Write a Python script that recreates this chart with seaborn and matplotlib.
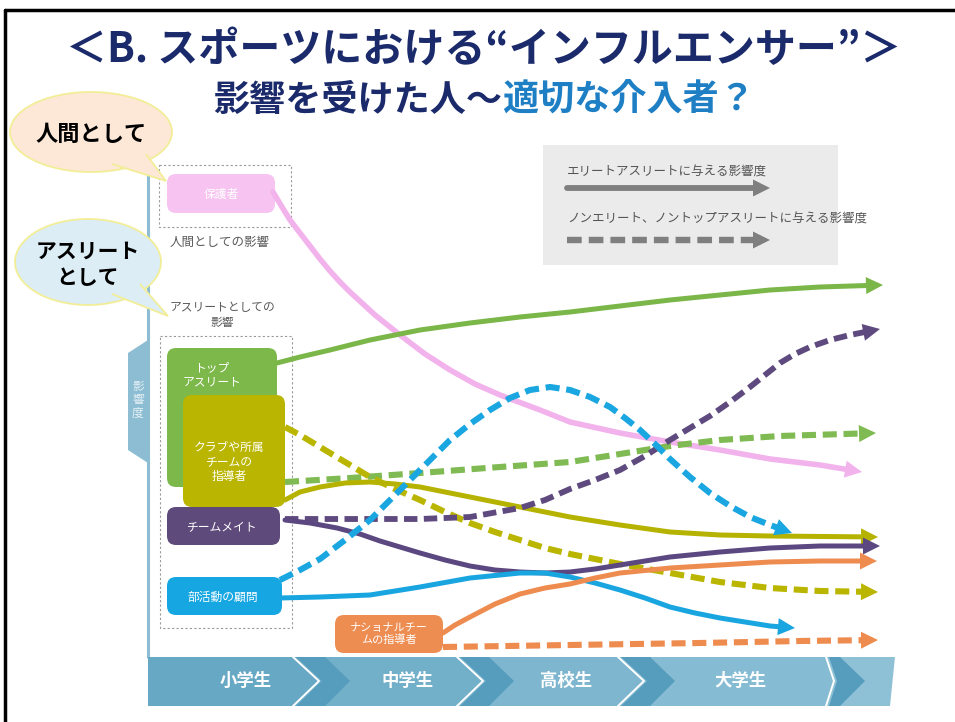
import numpy as np
import matplotlib
matplotlib.use("Agg")
import matplotlib.pyplot as plt
import matplotlib.patches as mpatches
import seaborn as sns

# curves, pixel coordinates (x to the right, y downwards)
# the last point of every list is the arrow tip
pink_x = [273, 282, 290, 300, 310, 320, 330, 340, 350, 375, 400, 425, 450, 475, 500, 540, 570, 620, 670, 720, 770, 820, 862]
pink_y = [192, 207, 220, 233, 246, 259, 271, 282, 292, 315, 335, 354, 370, 384, 395, 410, 422, 433, 442, 450, 459, 465, 472]

green_x = [277, 300, 330, 370, 420, 470, 520, 570, 620, 670, 720, 770, 820, 883]
green_y = [363, 357, 350, 340, 330, 323, 317, 312, 306, 300, 295, 290, 287, 285]

green_dash_x = [285, 350, 420, 500, 570, 620, 670, 720, 780, 876]
green_dash_y = [482, 478, 473, 467, 462, 454, 446, 440, 436, 433]

olive_dash_x = [285, 300, 320, 345, 370, 395, 420, 445, 470, 495, 520, 545, 570, 620, 670, 720, 770, 820, 878]
olive_dash_y = [427, 435, 447, 462, 477, 489, 500, 512, 523, 532, 540, 548, 554, 564, 573, 582, 588, 591, 592]

olive_x = [285, 300, 320, 345, 370, 395, 420, 445, 470, 520, 570, 620, 670, 720, 770, 878]
olive_y = [500, 492, 487, 483, 482, 484, 487, 492, 497, 507, 517, 525, 532, 535, 536, 537]

purple_dash_x = [285, 350, 420, 470, 520, 545, 570, 595, 620, 645, 670, 690, 710, 730, 750, 765, 780, 795, 810, 830, 850, 880]
purple_dash_y = [519, 519, 519, 517, 508, 500, 489, 480, 470, 456, 440, 428, 416, 402, 387, 375, 363, 354, 347, 340, 335, 329]

purple_x = [285, 310, 337, 360, 380, 400, 420, 445, 470, 495, 520, 545, 570, 595, 620, 670, 720, 770, 820, 880]
purple_y = [520, 523, 528, 534, 541, 547, 553, 560, 566, 570, 572, 573, 572, 569, 565, 557, 552, 548, 546, 546]

blue_dash_x = [280, 300, 320, 345, 370, 390, 410, 430, 450, 470, 490, 510, 530, 550, 570, 590, 610, 625,
               640, 655, 670, 690, 710, 730, 750, 770, 792]
blue_dash_y = [580, 570, 559, 540, 520, 500, 480, 460, 440, 424, 410, 398, 390, 387, 390, 397, 407, 418,
               430, 444, 459, 477, 493, 506, 517, 525, 533]

blue_x = [280, 320, 370, 420, 470, 520, 545, 570, 595, 620, 645, 670, 695, 720, 770, 795]
blue_y = [598, 597, 595, 587, 578, 573, 573, 577, 583, 590, 598, 607, 613, 618, 626, 628]

orange_x = [443, 455, 470, 495, 520, 545, 570, 595, 620, 670, 720, 770, 820, 877]
orange_y = [633, 625, 617, 604, 594, 588, 584, 578, 573, 568, 565, 562, 561, 561]

orange_dash_x = [443, 570, 700, 800, 878]
orange_dash_y = [647, 645, 643, 641, 640]

legend_solid_x = [567, 770]
legend_solid_y = [188, 188]
legend_dash_x = [567, 770]
legend_dash_y = [240, 240]

# school stages along the bottom band
stage_names = ['小学生', '中学生', '高校生', '大学生']
stage_label_x = [246, 408, 566, 740]
stage_tips = [319, 483, 644, 834]

sns.set_theme(style="white")
plt.rcParams['font.family'] = ['Noto Sans CJK JP', 'DejaVu Sans']

fig = plt.figure(figsize=(9.55, 7.22), dpi=100)
ax = fig.add_axes([0, 0, 1, 1])

NAVY = '#1a2a6a'


def arrow(xs, ys, color, dashed=False, lw=3.6, head=17, half=8.5, z=4):
    xs = np.asarray(xs, float)
    ys = np.asarray(ys, float)
    tip = np.array([xs[-1], ys[-1]])
    d = tip - np.array([xs[-2], ys[-2]])
    d = d / np.hypot(*d)
    nrm = np.array([-d[1], d[0]])
    base = tip - d * head
    keep = np.hypot(xs - tip[0], ys - tip[1]) > head + 2
    lx = np.append(xs[keep], base[0] + d[0] * 2)
    ly = np.append(ys[keep], base[1] + d[1] * 2)
    ls = (0, (2.3, 1.1)) if dashed else '-'
    sns.lineplot(x=lx, y=ly, sort=False, estimator=None, color=color, lw=lw, linestyle=ls,
                 ax=ax, legend=False, zorder=z, solid_capstyle='round', dash_capstyle='butt',
                 solid_joinstyle='round', dash_joinstyle='round')
    ax.add_patch(mpatches.Polygon([tip, base + nrm * half, base - nrm * half], closed=True,
                                  fc=color, ec='none', zorder=z))


def box(x, y, w, h, color, text, tx, ty, fs=8.5, z=2):
    ax.add_patch(mpatches.FancyBboxPatch((x, y), w, h, boxstyle="round,pad=0,rounding_size=9",
                                         fc=color, ec='none', zorder=z))
    ax.text(tx, ty, text, ha='center', va='center', color='white', fontsize=fs,
            linespacing=1.15, zorder=z + 0.1)


def bubble(cx, cy, w, h, tail, fill, text, fs):
    ax.add_patch(mpatches.Ellipse((cx, cy), w, h, fc=fill, ec='#f2ee98', lw=1.3, zorder=6))
    ax.add_patch(mpatches.Polygon(tail, closed=False, fc=fill, ec='#f2ee98', lw=1.3, zorder=6.1))
    ax.text(cx, cy + 2, text, ha='center', va='center', fontsize=fs, fontweight='bold',
            color='black', linespacing=1.3, zorder=6.2)


# slide frame
ax.plot([5, 955], [10, 10], color='black', lw=2.5)
ax.plot([5, 5], [10, 722], color='black', lw=2.5)

# title
ax.text(484, 50, '＜B. スポーツにおける“インフルエンサー”＞', ha='center', va='center',
        fontsize=29.5, fontweight='bold', color=NAVY)
ax.text(502, 100, '影響を受けた人～', ha='right', va='center', fontsize=26,
        fontweight='bold', color=NAVY)
ax.text(502, 100, '適切な介入者？', ha='left', va='center', fontsize=26,
        fontweight='bold', color='#1f7fc4')

# vertical influence axis
ax.plot([148, 148], [125, 657], color='#8dbdd3', lw=2.2, zorder=1)
ax.add_patch(mpatches.Polygon([(128, 353), (148, 340), (148, 463), (128, 450)],
                              fc='#8dbdd3', ec='none', zorder=1))
ax.text(138, 400, '影\n響\n度', ha='center', va='center', fontsize=8.5, color='#e6f1f6',
        linespacing=1.05)

# dashed group frames
ax.add_patch(mpatches.Rectangle((159, 165), 132, 62, fill=False, ec='#9a9a9a', lw=0.8,
                                ls=(0, (2, 2)), zorder=1))
ax.add_patch(mpatches.Rectangle((160, 336), 132, 292, fill=False, ec='#9a9a9a', lw=0.8,
                                ls=(0, (2, 2)), zorder=1))
ax.text(220, 242, '人間としての影響', ha='center', va='center', fontsize=9, color='#5a5a5a')
ax.text(222, 315, 'アスリートとしての\n影響', ha='center', va='center', fontsize=8.5,
        color='#5a5a5a', linespacing=1.2)

# source boxes
box(167, 174, 108, 39, '#f7c3f1', '保護者', 221, 194)
box(167, 348, 110, 139, '#7cb84a', 'トップ\nアスリート', 212, 375)
box(183, 395, 102, 112, '#b9b500', 'クラブや所属\nチームの\n指導者', 229, 462, z=2.3)
box(167, 507, 113, 38, '#5e4a7b', 'チームメイト', 222, 528, z=2.6)
box(167, 577, 115, 38, '#16a6e2', '部活動の顧問', 223, 597)
box(335, 615, 108, 38, '#ee8d52', 'ナショナルチー\nムの指導者', 389, 634, fs=8)

# legend
ax.add_patch(mpatches.Rectangle((543, 145), 295, 120, fc='#ebebeb', ec='none', zorder=1))
ax.text(567, 172, 'エリートアスリートに与える影響度', ha='left', va='center', fontsize=9,
        color='#555555', zorder=2)
ax.text(567, 219, 'ノンエリート、ノントップアスリートに与える影響度', ha='left', va='center',
        fontsize=9, color='#555555', zorder=2)
arrow(legend_solid_x, legend_solid_y, '#7f7f7f', lw=4.2, z=2)
arrow(legend_dash_x, legend_dash_y, '#7f7f7f', dashed=True, lw=4.6, z=2)

# influence curves
arrow(pink_x, pink_y, '#f2b3ec', lw=4.0)
arrow(green_x, green_y, '#7ab648')
arrow(green_dash_x, green_dash_y, '#7fba52', dashed=True, lw=4.4)
arrow(olive_dash_x, olive_dash_y, '#bab600', dashed=True, lw=4.4)
arrow(olive_x, olive_y, '#b6b300')
arrow(purple_dash_x, purple_dash_y, '#5e4a7e', dashed=True, lw=4.2)
arrow(purple_x, purple_y, '#5c4880')
arrow(blue_dash_x, blue_dash_y, '#1aa6e0', dashed=True, lw=4.4)
arrow(blue_x, blue_y, '#19a5df')
arrow(orange_x, orange_y, '#ee8c50')
arrow(orange_dash_x, orange_dash_y, '#ee8c50', dashed=True, lw=4.4)

# speech bubbles
bubble(91, 132, 162, 80, [(112, 164), (166, 181), (146, 154)], '#fde8d7', '人間として', 16)
bubble(88, 262, 146, 86, [(112, 294), (168, 316), (140, 284)], '#dcedf5',
       'アスリート\nとして', 15)

# stage band
top, mid, bot = 657, 681, 706
seg_colors = ['#67a8c5', '#72afc9', '#7db6ce', '#86bcd3', '#8ec1d6']
depths = [26, 26, 26, 8]
prev = None
for i, t in enumerate(stage_tips + [None]):
    if prev is None:
        pts = [(148, top)]
    else:
        pts = [(prev[0] - prev[1], top)]
    if t is None:
        pts += [(895, top), (890, bot)]
    else:
        dd = depths[i]
        pts += [(t - dd, top), (t, mid), (t - dd, bot)]
    if prev is None:
        pts += [(148, bot)]
    else:
        pts += [(prev[0] - prev[1], bot), (prev[0], mid)]
    ax.add_patch(mpatches.Polygon(pts, closed=True, fc=seg_colors[i], ec='none', zorder=1))
    if t is not None:
        prev = (t, depths[i])

for t, dd in zip(stage_tips, depths):
    ax.add_patch(mpatches.Polygon([(t - dd + 3, top), (t + 6, top), (t + 31, mid), (t + 6, bot),
                                   (t - dd + 3, bot), (t + 3, mid)],
                                  closed=True, fc='#569dbd', ec='none', zorder=1.2))
    ax.plot([t - dd, t, t - dd], [top, mid, bot], color='white', lw=1.4, zorder=1.4)

for name, sx in zip(stage_names, stage_label_x):
    ax.text(sx, mid, name, ha='center', va='center', fontsize=12.5, fontweight='bold',
            color='white', zorder=2)

ax.set_xlim(0, 955)
ax.set_ylim(722, 0)
ax.axis('off')

fig.savefig('out.png', dpi=100)
